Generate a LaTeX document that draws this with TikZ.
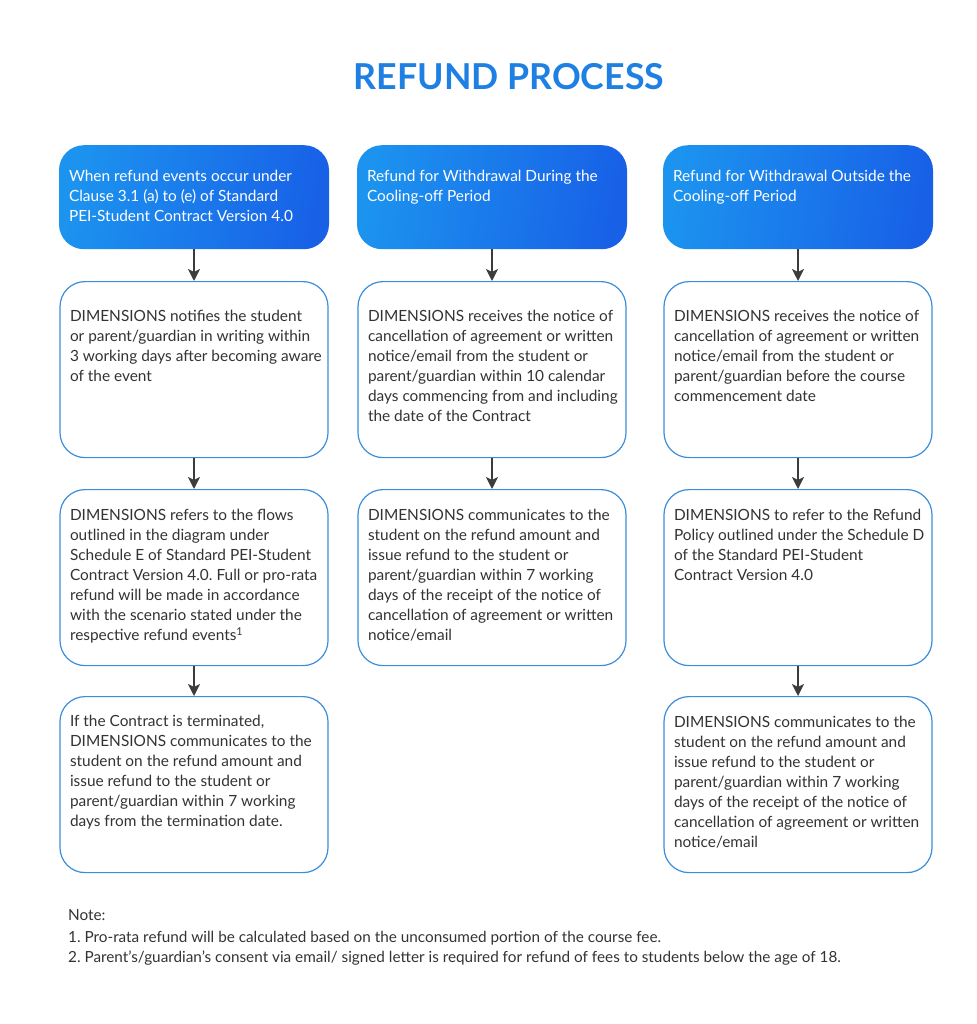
\documentclass[tikz,border=0pt]{standalone}
\usepackage{fontspec}
\setmainfont{Lato}
\usepackage{tikz}
\usetikzlibrary{positioning}
\usetikzlibrary{arrows.meta}
\definecolor{headlight}{HTML}{1C93EF}
\definecolor{headdark}{HTML}{1861E7}
\definecolor{boxblue}{HTML}{3A8EDB}
\definecolor{inkgray}{HTML}{333333}
\definecolor{arrowgray}{HTML}{3C3C3C}
\definecolor{titleblue}{HTML}{1E80E2}
\tikzstyle{headbox}=[rounded corners=25pt, left color=headlight, right color=headdark, shading angle=80, inner sep=0pt, anchor=north, text=white, font=\fontsize{15.4pt}{20pt}\selectfont]
\tikzstyle{stepbox}=[rounded corners=25pt, draw=boxblue, line width=1.2pt, fill=white, inner sep=0pt, anchor=north, text=inkgray, font=\fontsize{15.4pt}{20pt}\selectfont]
\tikzstyle{flow} = [draw=arrowgray, line width=1.8pt, -{Stealth[length=12pt,width=12pt,inset=3pt]}]
\tikzstyle{note} = [anchor=base west, inner sep=0pt, text=inkgray, font=\fontsize{15.3pt}{20pt}\selectfont]
% box text: height / top pad / width / text
\newcommand{\cell}[4]{\parbox[c][#1][t]{#3}{\raggedright\leftskip=10pt\vspace*{#2}\rule{0pt}{12pt}#4}}
\frenchspacing

\begin{document}
\begin{tikzpicture}[x=1pt, y=1pt]
    \useasboundingbox (0,0) rectangle (976,-1024);
    % title
    \node[text=titleblue, font=\fontsize{35.7pt}{38pt}\selectfont\bfseries, anchor=base] (title) at (509,-90) {REFUND PROCESS};

    % the three headers
    \node[headbox] (h1) at (194,-145) {\cell{104pt}{24pt}{270pt}{When refund events occur under\\ Clause 3.1 (a) to (e) of Standard\\ PEI-Student Contract Version 4.0}};
    \node[headbox] (h2) at (492,-145) {\cell{104pt}{24pt}{270pt}{Refund for Withdrawal During the\\ Cooling-off Period}};
    \node[headbox] (h3) at (798,-145) {\cell{104pt}{24pt}{270pt}{Refund for Withdrawal Outside the\\ Cooling-off Period}};

    % second row
    \node[stepbox] (b1) at (194,-281) {\cell{176pt}{28pt}{268pt}{DIMENSIONS notifies the student\\ or parent/guardian in writing within\\ 3 working days after becoming aware\\ of the event}};
    \node[stepbox] (b2) at (492,-281) {\cell{176pt}{28pt}{268pt}{DIMENSIONS receives the notice of\\ cancellation of agreement or written\\ notice/email from the student or\\ parent/guardian within 10 calendar\\ days commencing from and including\\ the date of the Contract}};
    \node[stepbox] (b3) at (798,-281) {\cell{176pt}{28pt}{268pt}{DIMENSIONS receives the notice of\\ cancellation of agreement or written\\ notice/email from the student or\\ parent/guardian before the course\\ commencement date}};

    % third row
    \node[stepbox] (c1) at (194,-489) {\cell{176pt}{19pt}{268pt}{DIMENSIONS refers to the flows\\ outlined in the diagram under\\ Schedule E of Standard PEI-Student\\ Contract Version 4.0. Full or pro-rata\\ refund will be made in accordance\\ with the scenario stated under the\\ respective refund events\textsuperscript{1}}};
    \node[stepbox] (c2) at (492,-489) {\cell{176pt}{19pt}{268pt}{DIMENSIONS communicates to the\\ student on the refund amount and\\ issue refund to the student or\\ parent/guardian within 7 working\\ days of the receipt of the notice of\\ cancellation of agreement or written\\ notice/email}};
    \node[stepbox] (c3) at (798,-489) {\cell{176pt}{19pt}{268pt}{DIMENSIONS to refer to the Refund\\ Policy outlined under the Schedule D\\ of the Standard PEI-Student\\ Contract Version 4.0}};

    % fourth row
    \node[stepbox] (d1) at (194,-696) {\cell{176pt}{18pt}{268pt}{If the Contract is terminated,\\ DIMENSIONS communicates to the\\ student on the refund amount and\\ issue refund to the student or\\ parent/guardian within 7 working\\ days from the termination date.}};
    \node[stepbox] (d3) at (798,-696) {\cell{176pt}{19pt}{268pt}{DIMENSIONS communicates to the\\ student on the refund amount and\\ issue refund to the student or\\ parent/guardian within 7 working\\ days of the receipt of the notice of\\ cancellation of agreement or written\\ notice/email}};

    % arrows down each column
    \foreach \source/ \dest in {h1/b1, b1/c1, c1/d1, h2/b2, b2/c2, h3/b3, b3/c3, c3/d3}
        \path[flow] (\source.south) -- (\dest.north);

    % notes
    \node[note] (n0) at (68,-920) {Note:};
    \node[note] (n1) at (68,-942) {1. Pro-rata refund will be calculated based on the unconsumed portion of the course fee.};
    \node[note] (n2) at (68,-962) {2. Parent's/guardian's consent via email/ signed letter is required for refund of fees to students below the age of 18.};
\end{tikzpicture}
\end{document}
